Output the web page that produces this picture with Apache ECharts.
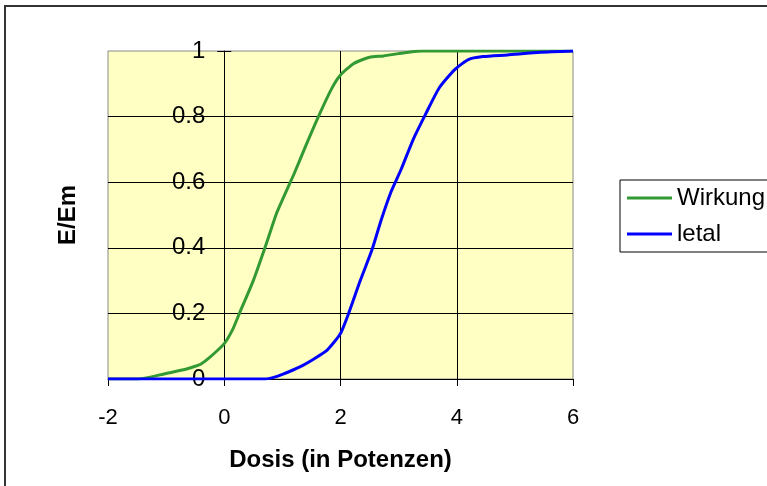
<!DOCTYPE html>
<html>
<head>
<meta charset="utf-8">
<script src="https://cdn.jsdelivr.net/npm/echarts@6/dist/echarts.min.js"></script>
<style>
html,body{margin:0;padding:0;background:#fff;}
#chart{width:767px;height:486px;}
</style>
</head>
<body>
<div id="chart"></div>
<script>
// Data
var seriesNames = ['Wirkung', 'letal'];
var wirkungX = [-2, -1.5, -1.3, -1.0, -0.7, -0.5, -0.4, -0.25, 0, 0.15, 0.27, 0.5, 0.7, 0.9, 1.0, 1.2, 1.4, 1.62, 1.85, 2.0, 2.23, 2.5, 2.74, 3.0, 3.2, 3.4, 4, 5, 6];
var wirkungY = [0, 0, 0.005, 0.017, 0.028, 0.039, 0.046, 0.066, 0.108, 0.153, 0.204, 0.30, 0.40, 0.505, 0.546, 0.625, 0.71, 0.80, 0.886, 0.927, 0.962, 0.981, 0.985, 0.992, 0.997, 1, 1, 1, 1];
var letalX = [-2, 0, 0.7, 0.85, 1.0, 1.3, 1.55, 1.77, 2.0, 2.14, 2.34, 2.54, 2.7, 2.87, 3.04, 3.25, 3.46, 3.7, 3.97, 4.2, 4.45, 4.87, 5.44, 6];
var letalY = [0, 0, 0, 0.005, 0.014, 0.037, 0.062, 0.088, 0.139, 0.2, 0.30, 0.393, 0.485, 0.571, 0.638, 0.73, 0.806, 0.888, 0.944, 0.974, 0.983, 0.988, 0.996, 1];
var xTicks = [-2, 0, 2, 4, 6];
var yTicks = [0, 0.2, 0.4, 0.6, 0.8, 1];

function pairs(xs, ys) { return xs.map(function (x, i) { return [x, ys[i]]; }); }

var gridLeft = 108, gridRight = 194, W = 767;
// y axis sits where x = 0 is, inside the plot
var plotW = W - gridLeft - gridRight;
var yAxisShift = -plotW * (0 - xTicks[0]) / (xTicks[xTicks.length - 1] - xTicks[0]);

var chart = echarts.init(document.getElementById('chart'), null, {renderer: 'canvas'});
var font = 'Liberation Sans, Arial, sans-serif';
chart.setOption({
  animation: false,
  backgroundColor: '#ffffff',
  graphic: [{
    type: 'rect', z: -10, silent: true,
    shape: {x: 5, y: 6, width: 820, height: 520},
    style: {fill: null, stroke: '#333333', lineWidth: 2}
  }],
  grid: {
    left: gridLeft, right: gridRight, top: 51, bottom: 107,
    containLabel: false, outerBoundsMode: 'none',
    show: true, backgroundColor: '#FFFFC4', borderColor: '#888888', borderWidth: 1
  },
  legend: {
    orient: 'vertical', left: 620, top: 180,
    data: [{name: seriesNames[0], icon: 'rect'}, {name: seriesNames[1], icon: 'rect'}],
    itemWidth: 45, itemHeight: 3, itemGap: 12,
    padding: [6, 60, 6, 7],
    borderColor: '#000000', borderWidth: 1,
    textStyle: {fontFamily: font, fontSize: 24, color: '#000'}
  },
  xAxis: {
    type: 'value', min: xTicks[0], max: xTicks[xTicks.length - 1], interval: 2,
    name: 'Dosis (in Potenzen)', nameLocation: 'middle', nameGap: 69,
    nameTextStyle: {fontFamily: font, fontSize: 24, fontWeight: 'bold', color: '#000'},
    axisLine: {show: true, onZero: false, lineStyle: {color: '#000', width: 1}},
    axisTick: {show: true, inside: false, length: 7, lineStyle: {color: '#000'}},
    axisLabel: {fontFamily: font, fontSize: 22, color: '#000', margin: 28},
    splitLine: {show: true, showMinLine: false, showMaxLine: false, lineStyle: {color: '#000', width: 1}}
  },
  yAxis: [{
    type: 'value', position: 'left', offset: yAxisShift,
    min: yTicks[0], max: yTicks[yTicks.length - 1], interval: 0.2,
    name: 'E/Em', nameLocation: 'middle', nameGap: 144, nameRotate: 90,
    nameTextStyle: {fontFamily: font, fontSize: 24, fontWeight: 'bold', color: '#000'},
    axisLine: {show: true, onZero: false, lineStyle: {color: '#000', width: 1}},
    axisTick: {show: true, inside: false, length: 7, lineStyle: {color: '#000'}},
    axisLabel: {fontFamily: font, fontSize: 24, color: '#000', margin: 19},
    splitLine: {show: true, showMinLine: false, showMaxLine: false, lineStyle: {color: '#000', width: 1}}
  }, {
    type: 'value', position: 'left', offset: yAxisShift,
    min: yTicks[0], max: yTicks[yTicks.length - 1], interval: 0.2,
    axisLine: {show: false, onZero: false},
    axisTick: {show: true, inside: true, length: 7, lineStyle: {color: '#000'}},
    axisLabel: {show: false},
    splitLine: {show: false}
  }],
  series: [{
    name: seriesNames[0], type: 'line', smooth: 0.2, showSymbol: false, symbol: 'none',
    data: pairs(wirkungX, wirkungY),
    lineStyle: {color: '#339933', width: 3}, itemStyle: {color: '#339933'}, z: 3
  }, {
    name: seriesNames[1], type: 'line', smooth: 0.2, showSymbol: false, symbol: 'none',
    data: pairs(letalX, letalY),
    lineStyle: {color: '#0000FF', width: 3}, itemStyle: {color: '#0000FF'}, z: 4
  }]
});
</script>
</body>
</html>
